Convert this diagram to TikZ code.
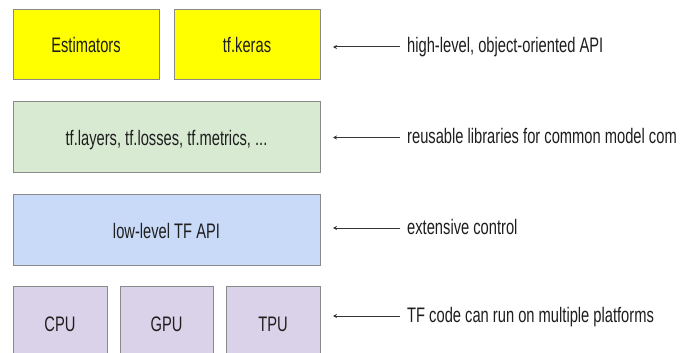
\documentclass[tikz,border=0pt]{standalone}
\usepackage{fontspec}
\setmainfont{Liberation Sans}[FakeStretch=0.70]
\usetikzlibrary{arrows.meta}

\definecolor{boxline}{HTML}{8A8A8A}
\definecolor{ink}{HTML}{1E1E1E}
\definecolor{yellowfill}{HTML}{FFFF00}
\definecolor{greenfill}{HTML}{D9EAD3}
\definecolor{bluefill}{HTML}{C9DAF8}
\definecolor{purplefill}{HTML}{D9D2E9}

\tikzset{
  layerbox/.style={draw=boxline, line width=0.8pt, inner sep=0pt, outer sep=0pt,
    text=ink, text height=18pt, text depth=0pt, font=\fontsize{21}{24}\selectfont},
  sidelabel/.style={anchor=west, inner xsep=7pt, inner ysep=0pt, text=ink,
    text height=15pt, text depth=3pt, font=\fontsize{21}{24}\selectfont},
  pointer/.style={draw=ink!90, line width=1pt, -{Stealth[length=4pt,width=4pt]}}
}

\begin{document}
\begin{tikzpicture}[x=1pt, y=-1pt]
  \clip (0,0) rectangle (689,353);
  \fill[white] (0,0) rectangle (689,353);

  % top row: high-level APIs
  \node[layerbox, fill=yellowfill, minimum width=146pt, minimum height=70pt] (est) at (86,44) {Estimators};
  \node[layerbox, fill=yellowfill, minimum width=146pt, minimum height=70pt] (keras) at (247,44) {tf.keras};

  % reusable libraries
  \node[layerbox, fill=greenfill, minimum width=307pt, minimum height=71pt] (libs) at (166.5,136.5) {tf.layers, tf.losses, tf.metrics, ...};

  % low-level API
  \node[layerbox, fill=bluefill, minimum width=307pt, minimum height=71pt] (low) at (166.5,229.5) {low-level TF API};

  % hardware platforms
  \node[layerbox, fill=purplefill, minimum width=94pt, minimum height=72pt] (cpu) at (60,322) {CPU};
  \node[layerbox, fill=purplefill, minimum width=93pt, minimum height=72pt] (gpu) at (166.5,322) {GPU};
  \node[layerbox, fill=purplefill, minimum width=94pt, minimum height=72pt] (tpu) at (273,322) {TPU};

  % descriptions on the right
  \node[sidelabel] (d1) at (400,47) {high-level, object-oriented API};
  \node[sidelabel] (d2) at (400,137.5) {reusable libraries for common model com};
  \node[sidelabel] (d3) at (400,228) {extensive control};
  \node[sidelabel] (d4) at (400,316) {TF code can run on multiple platforms};

  \coordinate (p1) at (333,47);
  \coordinate (p2) at (333,137.5);
  \coordinate (p3) at (333,228);
  \coordinate (p4) at (333,316);

  \draw[pointer] (d1.west) -- (p1);
  \draw[pointer] (d2.west) -- (p2);
  \draw[pointer] (d3.west) -- (p3);
  \draw[pointer] (d4.west) -- (p4);
\end{tikzpicture}
\end{document}
